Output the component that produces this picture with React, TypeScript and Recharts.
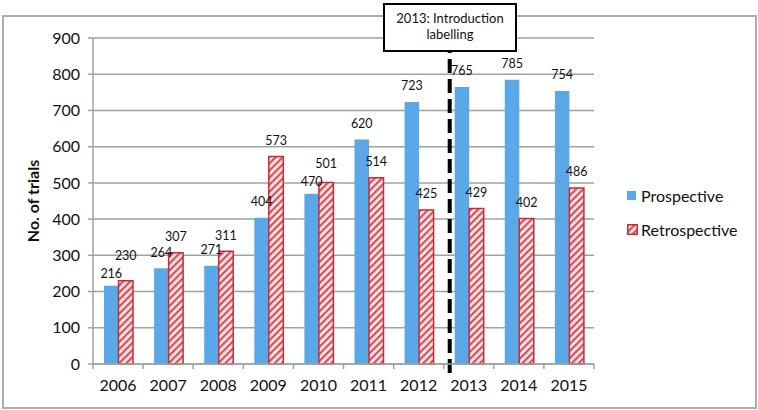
import { BarChart, Bar, XAxis, YAxis, CartesianGrid, LabelList, ReferenceLine } from 'recharts';

const years = ['2006', '2007', '2008', '2009', '2010', '2011', '2012', '2013', '2014', '2015'];
const prospective = [216, 264, 271, 404, 470, 620, 723, 765, 785, 754];
const retrospective = [230, 307, 311, 573, 501, 514, 425, 429, 402, 486];
const yTicks = [0, 100, 200, 300, 400, 500, 600, 700, 800, 900];
const introYear = '2013';

const data = years.map((y, i) => ({
  year: y,
  Prospective: prospective[i],
  Retrospective: retrospective[i],
}));

const FONT = 'Lato, "Open Sans", sans-serif';
const GRID = '#9aa4a4';
const BLUE = '#5aa8e8';
const RED = '#cc2a34';

function YearTick(props: any) {
  const { x, y, payload, index, visibleTicksCount } = props;
  const half = payload?.offset ?? 25;
  const axisY = y - 8;
  return (
    <g>
      <line x1={x - half} y1={axisY} x2={x - half} y2={axisY + 5} stroke={GRID} strokeWidth={1.5} />
      {index === visibleTicksCount - 1 && (
        <line x1={x + half} y1={axisY} x2={x + half} y2={axisY + 5} stroke={GRID} strokeWidth={1.5} />
      )}
      <text x={x} y={y + 19} textAnchor="middle" fontSize={16} fill="#111" fontFamily={FONT}>
        {payload.value}
      </text>
    </g>
  );
}

// value label above a bar; when the two bars of a year are nearly level,
// the taller one's label is lifted so the two numbers don't collide
function makeLabel(own: number[], other: number[]) {
  return function ValueLabel(props: any) {
    const { x, y, width, height, value, index } = props;
    const perUnit = value ? height / value : 0;
    const base = y + height;
    const ownTop = y;
    const otherTop = base - other[index] * perUnit;
    let cy = ownTop - 16;
    if (Math.abs(ownTop - otherTop) < 14) {
      if (own[index] >= other[index]) cy = Math.min(cy, otherTop - 30);
      else cy = ownTop - 12;
    }
    return (
      <text x={x + width / 2} y={cy} dy="0.35em" textAnchor="middle" fontSize={12.5} fill="#111" fontFamily={FONT}>
        {value}
      </text>
    );
  };
}

const ProspectiveLabel = makeLabel(prospective, retrospective);
const RetrospectiveLabel = makeLabel(retrospective, prospective);

function IntroLine(props: any) {
  const { x1, y1, y2 } = props;
  const x = x1 + 6;
  return (
    <line x1={x} y1={y1 + 9} x2={x} y2={y2 + 5} stroke="#000" strokeWidth={4} strokeDasharray="14 6" />
  );
}

export default function App() {
  return (
    <div style={{ position: 'absolute', left: 0, top: 0, width: 758, height: 410, background: '#fff' }}>
      <div
        style={{
          position: 'absolute',
          left: 2,
          top: 15,
          width: 751,
          height: 390,
          border: '2px solid #a6aeae',
        }}
      />
      <BarChart
        width={758}
        height={410}
        data={data}
        margin={{ top: 38, right: 164, bottom: 0, left: 0 }}
        barSize={14.5}
        barGap={0}
      >
        <defs>
          <pattern id="retroStripes" patternUnits="userSpaceOnUse" width={5} height={5} patternTransform="rotate(45)">
            <rect width={5} height={5} fill="#fcecec" />
            <rect width={2.3} height={5} fill="#d9505a" />
          </pattern>
        </defs>
        <CartesianGrid vertical={false} stroke={GRID} strokeWidth={1.5} />
        <XAxis
          dataKey="year"
          height={46}
          axisLine={{ stroke: GRID, strokeWidth: 1.5 }}
          tickLine={false}
          tick={<YearTick />}
          interval={0}
        />
        <YAxis
          width={93}
          domain={[0, 900]}
          ticks={yTicks}
          axisLine={{ stroke: GRID, strokeWidth: 1.5 }}
          tickLine={{ stroke: GRID, strokeWidth: 1.5 }}
          tickSize={5}
          tick={{ fontSize: 16, fill: '#111', fontFamily: FONT }}
          tickMargin={8}
          label={{
            value: 'No. of trials',
            angle: -90,
            position: 'insideLeft',
            offset: 33,
            style: { fontSize: 16, fontWeight: 700, fill: '#111', fontFamily: FONT, textAnchor: 'middle' },
          }}
        />
        <Bar dataKey="Prospective" fill={BLUE} isAnimationActive={false}>
          <LabelList dataKey="Prospective" content={<ProspectiveLabel />} />
        </Bar>
        <Bar dataKey="Retrospective" fill="url(#retroStripes)" stroke={RED} strokeWidth={1.5} isAnimationActive={false}>
          <LabelList dataKey="Retrospective" content={<RetrospectiveLabel />} />
        </Bar>
        <ReferenceLine x={introYear} position="start" ifOverflow="visible" shape={<IntroLine />} />
      </BarChart>
      <div
        style={{
          position: 'absolute',
          left: 627,
          top: 186,
          fontFamily: FONT,
          fontSize: 16,
          color: '#111',
        }}
      >
        <div style={{ display: 'flex', alignItems: 'center', marginBottom: 15 }}>
          <span style={{ width: 9, height: 9, background: BLUE, marginRight: 5 }} />
          Prospective
        </div>
        <div style={{ display: 'flex', alignItems: 'center' }}>
          <svg width={11} height={11} style={{ marginRight: 3 }}>
            <rect x={0.75} y={0.75} width={9.5} height={9.5} fill="url(#retroStripes)" stroke={RED} strokeWidth={1.5} />
          </svg>
          Retrospective
        </div>
      </div>
      <div
        style={{
          position: 'absolute',
          left: 383,
          top: 3,
          width: 130,
          height: 40,
          border: '2px solid #000',
          background: '#fff',
          fontFamily: FONT,
          fontSize: 13,
          lineHeight: '16px',
          textAlign: 'center',
          paddingTop: 5,
          boxSizing: 'content-box',
          color: '#111',
        }}
      >
        {introYear}: Introduction
        <br />
        labelling
      </div>
    </div>
  );
}
